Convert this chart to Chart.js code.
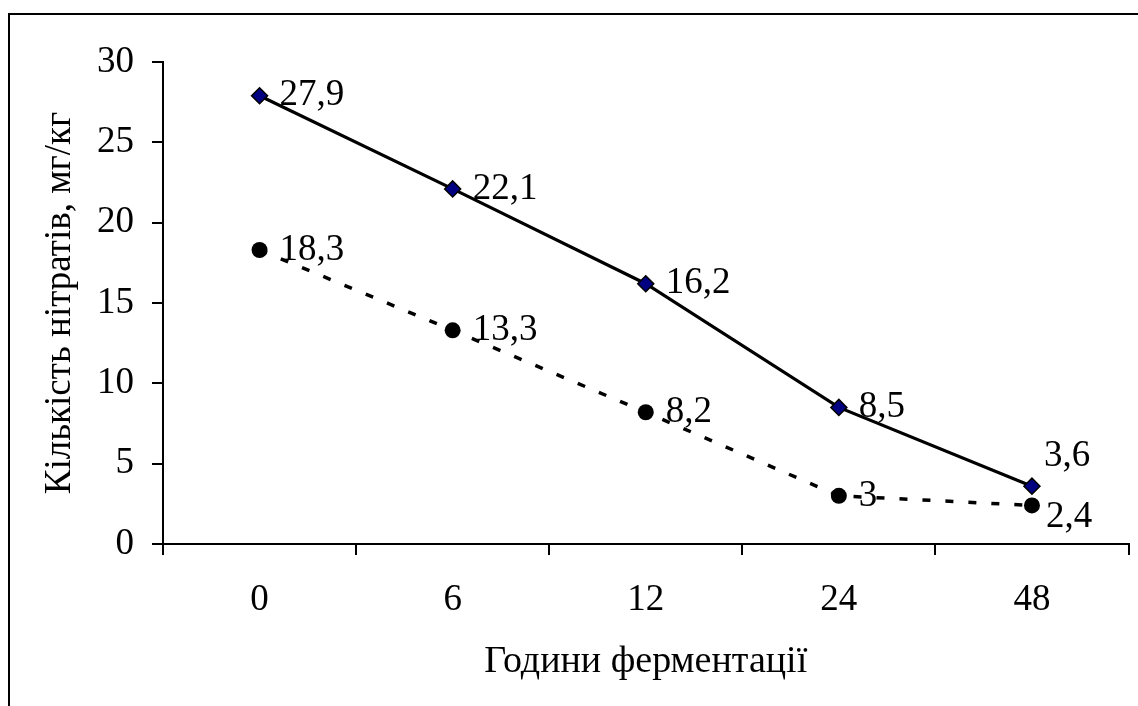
<!DOCTYPE html>
<html>
<head>
<meta charset="utf-8">
<script src="https://cdn.jsdelivr.net/npm/chart.js@4/dist/chart.umd.min.js"></script>
<style>
  html, body { margin: 0; padding: 0; background: #fff; }
  #wrap { position: relative; width: 1138px; height: 706px; }
</style>
</head>
<body>
<div id="wrap"><canvas id="c" width="1138" height="706"></canvas></div>
<script>
// ---- data ----
const categories = ['0', '6', '12', '24', '48'];
const seriesA = [27.9, 22.1, 16.2, 8.5, 3.6];
const seriesB = [18.3, 13.3, 8.2, 3, 2.4];
const yTicks = [0, 5, 10, 15, 20, 25, 30];
const xTitle = 'Години ферментації';
const yTitle = 'Кількість нітратів, мг/кг';

const FONT = "'Liberation Serif', 'Times New Roman', serif";
const FS = 37;
const FT = 38;
const fmt = v => String(v).replace('.', ',');

const framePlugin = {
  id: 'frame',
  beforeDraw(chart) {
    const ctx = chart.ctx;
    ctx.save();
    ctx.fillStyle = '#fff';
    ctx.fillRect(0, 0, chart.width, chart.height);
    ctx.strokeStyle = '#000';
    ctx.lineWidth = 2;
    ctx.strokeRect(9, 14, chart.width + 40, chart.height + 40);
    ctx.restore();
  }
};

const labelPlugin = {
  id: 'valueLabels',
  afterDatasetsDraw(chart) {
    const ctx = chart.ctx;
    ctx.save();
    ctx.font = FS + 'px ' + FONT;
    ctx.fillStyle = '#000';
    ctx.textAlign = 'left';
    ctx.textBaseline = 'middle';
    chart.data.datasets.forEach((ds, i) => {
      const meta = chart.getDatasetMeta(i);
      const last = ds.data.length - 1;
      meta.data.forEach((pt, j) => {
        let dx = 20, dy = 0;
        if (j === last) {
          const others = chart.data.datasets.map(d => d.data[j]);
          const isTop = ds.data[j] === Math.max(...others);
          if (isTop) { dx = 12; dy = -30; } else { dx = 14; dy = 12; }
        }
        ctx.fillText(fmt(ds.data[j]), pt.x + dx, pt.y + dy);
      });
    });
    ctx.restore();
  }
};

new Chart(document.getElementById('c'), {
  type: 'line',
  data: {
    labels: categories,
    datasets: [
      {
        label: 'A',
        data: seriesA,
        borderColor: '#000',
        borderWidth: 3.2,
        tension: 0,
        pointStyle: 'rectRot',
        pointRadius: 8,
        pointBackgroundColor: '#000080',
        pointBorderColor: '#000',
        pointBorderWidth: 1.5,
        fill: false
      },
      {
        label: 'B',
        data: seriesB,
        borderColor: '#000',
        borderWidth: 3.5,
        borderDash: [8, 15],
        tension: 0,
        pointStyle: 'circle',
        pointRadius: 8,
        pointBackgroundColor: '#000',
        pointBorderColor: '#000',
        pointBorderWidth: 0,
        fill: false
      }
    ]
  },
  options: {
    responsive: false,
    animation: false,
    devicePixelRatio: 1,
    layout: { padding: { top: 62, right: 9, left: 0, bottom: 0 } },
    plugins: {
      legend: { display: false },
      tooltip: { enabled: false },
      title: { display: false }
    },
    scales: {
      x: {
        type: 'category',
        offset: true,
        grid: {
          display: true, offset: true, drawOnChartArea: false, drawTicks: true,
          tickLength: 11, color: '#000', lineWidth: 2
        },
        border: { display: true, color: '#000', width: 2 },
        ticks: { color: '#000', font: { family: FONT, size: FS }, padding: 23, maxRotation: 0 },
        title: {
          display: true, text: xTitle, color: '#000',
          font: { family: FONT, size: FT }, padding: { top: 0, bottom: 21 }
        },
        afterFit(s) { s.height = 706 - 544; }
      },
      y: {
        min: 0, max: 30,
        afterBuildTicks(s) { s.ticks = yTicks.map(v => ({ value: v })); },
        grid: {
          display: true, drawOnChartArea: false, drawTicks: true,
          tickLength: 11, color: '#000', lineWidth: 2
        },
        border: { display: true, color: '#000', width: 2 },
        ticks: { color: '#000', font: { family: FONT, size: FS }, padding: 18 },
        title: {
          display: true, text: yTitle, color: '#000',
          font: { family: FONT, size: FS }, padding: { top: 38, bottom: 0 }
        },
        afterFit(s) { s.width = 163; }
      }
    }
  },
  plugins: [framePlugin, labelPlugin]
});
</script>
</body>
</html>
